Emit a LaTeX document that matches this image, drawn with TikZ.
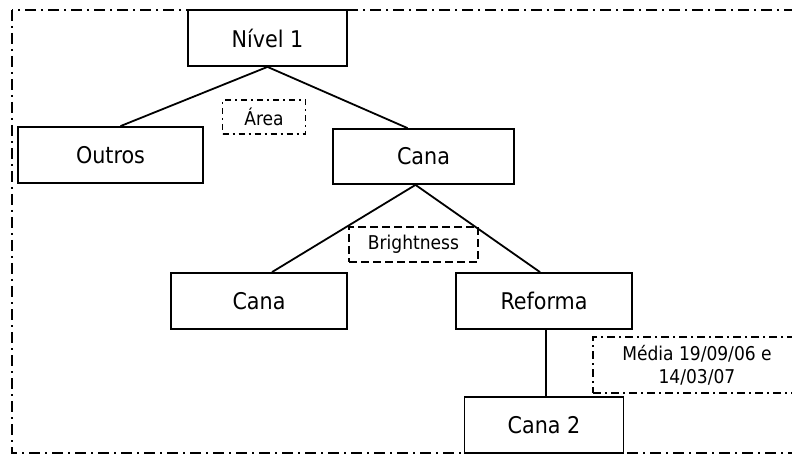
\documentclass[tikz,border=0pt]{standalone}
\usepackage{fontspec}
\setmainfont{DejaVu Sans Condensed}
\usepackage{tikz}
\usetikzlibrary{positioning}
\tikzset{
    level/.style={
           rectangle,
           draw=black, line width=1.8pt,
           inner sep=2pt,
           text centered,
           font=\fontsize{23}{27}\selectfont,
           },
    split/.style={
           rectangle,
           draw=black, line width=1.6pt,
           inner sep=2pt,
           text centered,
           font=\fontsize{19}{23}\selectfont,
           },
}

\begin{document}
\begin{tikzpicture}[x=1pt,y=-1pt]

 \useasboundingbox (0,0) rectangle (792,454);
 \clip (0,0) rectangle (792,454);

 % outer frame
 \draw[line width=1.6pt, dash pattern=on 11pt off 5pt on 2pt off 5pt]
   (12,10) rectangle (800,453);

 \node[level, minimum width=159pt, minimum height=56pt] (N1) at (267.5,38) {Nível 1};
 \node[level, minimum width=185pt, minimum height=56pt] (OU) at (110.5,155) {Outros};
 \node[level, minimum width=181pt, minimum height=55pt] (CA) at (423.5,156.5) {Cana};

 \node[split, dash pattern=on 6pt off 4pt on 2pt off 4pt,
   minimum width=83pt, minimum height=34pt] (AR) at (264,117) {Área};

 \node[level, minimum width=176pt, minimum height=56pt] (CB) at (259,301) {Cana};
 \node[level, minimum width=176pt, minimum height=56pt] (RE) at (544,301) {Reforma};

 \node[split, dash pattern=on 8pt off 4pt,
   minimum width=129pt, minimum height=35pt] (BR) at (413.5,244.5) {Brightness};

 \node[level, minimum width=159pt, minimum height=56pt] (C2) at (544,425) {Cana 2};

 \node[split, align=center, dash pattern=on 8pt off 4pt on 2pt off 4pt,
   minimum width=208pt, minimum height=56pt] (ME) at (697,365)
   {Média 19/09/06 e\\14/03/07};

 \draw[line width=1.8pt] (N1.south) -- ([xshift=10pt]OU.north);
 \draw[line width=1.8pt] (N1.south) -- ([xshift=-16pt]CA.north);
 \draw[line width=1.8pt] ([xshift=-8pt]CA.south) -- ([xshift=13pt]CB.north);
 \draw[line width=1.8pt] ([xshift=-8pt]CA.south) -- ([xshift=-4pt]RE.north);
 \draw[line width=1.8pt] ([xshift=2pt]RE.south) -- ([xshift=2pt]C2.north);

\end{tikzpicture}
\end{document}
